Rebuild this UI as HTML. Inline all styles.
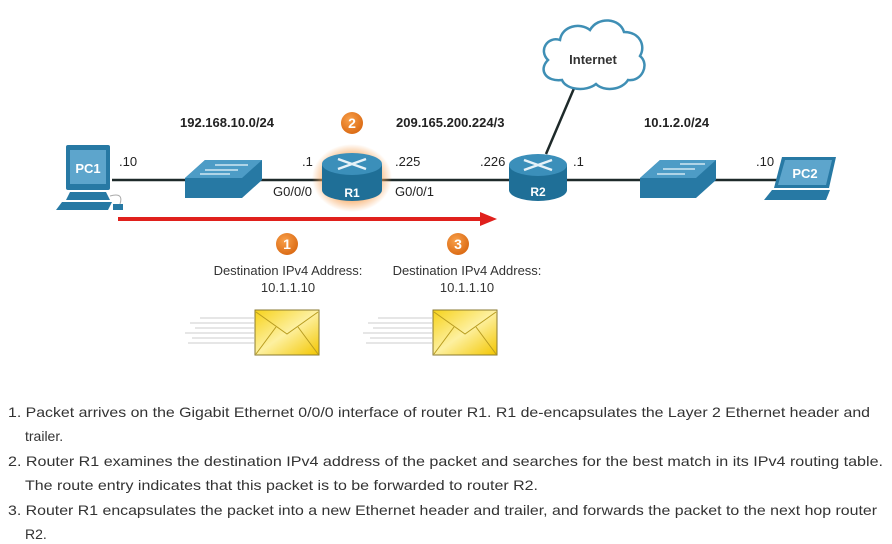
<!DOCTYPE html>
<html><head><meta charset="utf-8"><style>
html,body{margin:0;padding:0;background:#fff;}
svg{display:block;font-family:"Liberation Sans",sans-serif;}
</style></head><body>
<svg width="892" height="544" viewBox="0 0 892 544" xmlns="http://www.w3.org/2000/svg">
<defs>
<linearGradient id="env" x1="0" y1="0" x2="1" y2="1"><stop offset="0" stop-color="#f7d21a"/><stop offset="0.5" stop-color="#fdf0a0"/><stop offset="1" stop-color="#f3c600"/></linearGradient>
<radialGradient id="badge" cx="0.4" cy="0.35" r="0.7"><stop offset="0" stop-color="#f9a04a"/><stop offset="1" stop-color="#d96812"/></radialGradient>
<radialGradient id="glow" cx="0.5" cy="0.5" r="0.5"><stop offset="0.6" stop-color="#f7a860" stop-opacity="0.9"/><stop offset="1" stop-color="#f7a860" stop-opacity="0"/></radialGradient>
</defs>
<!-- lines -->
<line x1="112" y1="180" x2="780" y2="180" stroke="#1e2a2a" stroke-width="2.5"/>
<line x1="575" y1="86" x2="546" y2="154" stroke="#1e2a2a" stroke-width="2.5"/>
<!-- PC1 -->
<rect x="66" y="145" width="44" height="45" rx="2" fill="#2779a4"/>
<rect x="70" y="150" width="36" height="34" fill="#5da5cc"/>
<text x="88" y="173" font-size="13" font-weight="bold" fill="#fff" text-anchor="middle">PC1</text>
<polygon points="70,192 106,192 110,200 66,200" fill="#2779a4"/>
<polygon points="62,202 112,202 108,210 56,210" fill="#2779a4"/>
<rect x="113" y="204" width="10" height="6" fill="#2779a4"/>
<path d="M110 196 Q124 192 120 204" stroke="#aaa" fill="none"/>
<!-- switch1 -->
<polygon points="185,178 205,160 262,160 262,180 242,198 185,198" fill="#2779a4"/>
<polygon points="185,178 205,160 262,160 242,178" fill="#4d9cc6"/>
<line x1="205" y1="170" x2="238" y2="170" stroke="#d0e6f2" stroke-width="1.5"/>
<line x1="215" y1="165" x2="248" y2="165" stroke="#d0e6f2" stroke-width="1.5"/>
<line x1="200" y1="174" x2="230" y2="174" stroke="#d0e6f2" stroke-width="1.5"/>
<!-- R1 -->
<ellipse cx="352" cy="178" rx="40" ry="34" fill="url(#glow)"/>
<path d="M322 164 L322 190 A30 11 0 0 0 382 190 L382 164 Z" fill="#1f6f97"/>
<ellipse cx="352" cy="164" rx="30" ry="11" fill="#3b8fba"/>
<path d="M338 159 L366 169 M338 169 L366 159" stroke="#e6f2f8" stroke-width="2.5"/>
<text x="352" y="197" font-size="12" font-weight="bold" fill="#fff" text-anchor="middle">R1</text>
<circle cx="352" cy="123" r="11" fill="url(#badge)"/>
<text x="352" y="128" font-size="14" font-weight="bold" fill="#fff" text-anchor="middle">2</text>
<!-- R2 -->
<path d="M509 165 L509 190 A29 11 0 0 0 567 190 L567 165 Z" fill="#1f6f97"/>
<ellipse cx="538" cy="165" rx="29" ry="11" fill="#3b8fba"/>
<path d="M524 160 L552 170 M524 170 L552 160" stroke="#e6f2f8" stroke-width="2.5"/>
<text x="538" y="196" font-size="12" font-weight="bold" fill="#fff" text-anchor="middle">R2</text>
<!-- cloud -->
<path d="M548 60 C538 50 548 36 560 40 C562 26 580 22 590 30 C598 16 620 18 624 32 C640 32 646 46 640 56 C650 64 642 82 628 80 C622 90 604 92 596 84 C586 92 566 90 562 80 C546 82 538 70 548 60 Z" fill="#fff" stroke="#3f8fb5" stroke-width="2.5"/>
<text x="593" y="64" font-size="13" font-weight="bold" fill="#333" text-anchor="middle">Internet</text>
<!-- switch2 -->
<polygon points="640,178 660,160 716,160 716,180 696,198 640,198" fill="#2779a4"/>
<polygon points="640,178 660,160 716,160 696,178" fill="#4d9cc6"/>
<line x1="680" y1="164" x2="705" y2="164" stroke="#d0e6f2" stroke-width="1.5"/>
<line x1="663" y1="169" x2="695" y2="169" stroke="#d0e6f2" stroke-width="1.5"/>
<line x1="657" y1="174" x2="685" y2="174" stroke="#d0e6f2" stroke-width="1.5"/>
<!-- PC2 -->
<polygon points="782,157 836,157 829,188 774,188" fill="#2779a4"/>
<polygon points="785,160 832,160 826,185 778,185" fill="#5da5cc"/>
<text x="805" y="178" font-size="13" font-weight="bold" fill="#fff" text-anchor="middle">PC2</text>
<polygon points="772,190 830,190 826,200 764,200" fill="#2779a4"/>
<!-- labels -->
<g font-size="13" fill="#222">
<text x="180" y="127" font-weight="bold">192.168.10.0/24</text>
<text x="396" y="127" font-weight="bold">209.165.200.224/3</text>
<text x="644" y="127" font-weight="bold">10.1.2.0/24</text>
<text x="119" y="166">.10</text>
<text x="302" y="166">.1</text>
<text x="395" y="166">.225</text>
<text x="480" y="166">.226</text>
<text x="573" y="166">.1</text>
<text x="756" y="166">.10</text>
<text x="273" y="196">G0/0/0</text>
<text x="395" y="196">G0/0/1</text>
</g>
<!-- red arrow -->
<line x1="118" y1="219" x2="482" y2="219" stroke="#e0201c" stroke-width="4"/>
<polygon points="480,212 497,219 480,226" fill="#e0201c"/>
<!-- badges 1 and 3 -->
<circle cx="287" cy="244" r="11" fill="url(#badge)"/>
<text x="287" y="249" font-size="14" font-weight="bold" fill="#fff" text-anchor="middle">1</text>
<circle cx="458" cy="244" r="11" fill="url(#badge)"/>
<text x="458" y="249" font-size="14" font-weight="bold" fill="#fff" text-anchor="middle">3</text>
<g font-size="13" fill="#333" text-anchor="middle">
<text x="288" y="275">Destination IPv4 Address:</text>
<text x="288" y="292">10.1.1.10</text>
<text x="467" y="275">Destination IPv4 Address:</text>
<text x="467" y="292">10.1.1.10</text>
</g>
<!-- envelopes -->
<g stroke="#ccc" stroke-width="1">
<line x1="200" y1="318" x2="254" y2="318"/><line x1="190" y1="323" x2="254" y2="323"/><line x1="195" y1="328" x2="254" y2="328"/><line x1="185" y1="333" x2="254" y2="333"/><line x1="192" y1="338" x2="254" y2="338"/><line x1="188" y1="343" x2="254" y2="343"/>
<line x1="378" y1="318" x2="432" y2="318"/><line x1="368" y1="323" x2="432" y2="323"/><line x1="373" y1="328" x2="432" y2="328"/><line x1="363" y1="333" x2="432" y2="333"/><line x1="370" y1="338" x2="432" y2="338"/><line x1="366" y1="343" x2="432" y2="343"/>
</g>
<rect x="255" y="310" width="64" height="45" fill="url(#env)" stroke="#8a7a30"/>
<path d="M256 312 L287 334 L318 312 M256 354 L276 327 M318 354 L298 327" stroke="#b89c20" fill="none"/>
<rect x="433" y="310" width="64" height="45" fill="url(#env)" stroke="#8a7a30"/>
<path d="M434 312 L465 334 L496 312 M434 354 L454 327 M496 354 L476 327" stroke="#b89c20" fill="none"/>
<!-- list -->
<g font-size="14" fill="#333">
<text x="8" y="417" textLength="862" lengthAdjust="spacingAndGlyphs">1. Packet arrives on the Gigabit Ethernet 0/0/0 interface of router R1. R1 de-encapsulates the Layer 2 Ethernet header and</text>
<text x="25" y="441">trailer.</text>
<text x="8" y="466" textLength="875" lengthAdjust="spacingAndGlyphs">2. Router R1 examines the destination IPv4 address of the packet and searches for the best match in its IPv4 routing table.</text>
<text x="25" y="490" textLength="513" lengthAdjust="spacingAndGlyphs">The route entry indicates that this packet is to be forwarded to router R2.</text>
<text x="8" y="515" textLength="869" lengthAdjust="spacingAndGlyphs">3. Router R1 encapsulates the packet into a new Ethernet header and trailer, and forwards the packet to the next hop router</text>
<text x="25" y="539">R2.</text>
</g>
</svg>
</body></html>
